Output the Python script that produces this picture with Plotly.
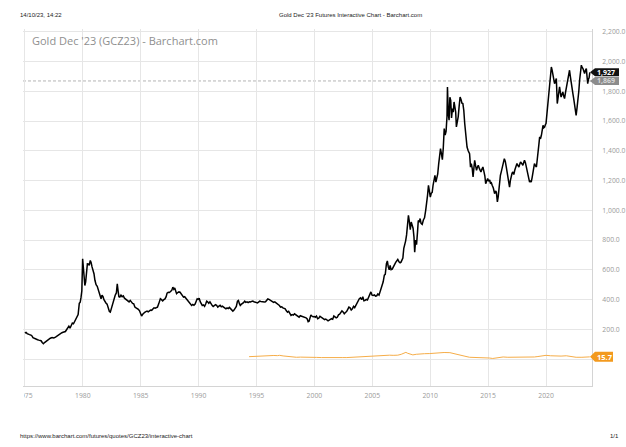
import plotly.graph_objects as go

# ---------------- data ----------------
gold_year = [
    1975.00, 1975.10, 1975.20, 1975.30, 1975.40, 1975.50, 1975.60, 1975.70, 1975.80, 1975.90,
    1976.00, 1976.10, 1976.20, 1976.30, 1976.40, 1976.50, 1976.60, 1976.70, 1976.80, 1976.90,
    1977.00, 1977.10, 1977.20, 1977.35, 1977.50, 1977.65, 1977.80, 1977.95,
    1978.10, 1978.20, 1978.30, 1978.40, 1978.50, 1978.60, 1978.70, 1978.80, 1978.90,
    1979.00, 1979.10, 1979.20, 1979.30, 1979.40, 1979.50, 1979.60, 1979.70, 1979.78, 1979.85, 1979.92, 1979.99,
    1980.05, 1980.12, 1980.18, 1980.25, 1980.32, 1980.40, 1980.48, 1980.56, 1980.65, 1980.72, 1980.80, 1980.90, 1980.97,
    1981.05, 1981.15, 1981.25, 1981.35, 1981.42, 1981.50, 1981.58, 1981.66, 1981.75, 1981.83, 1981.92,
    1982.00, 1982.10, 1982.20, 1982.30, 1982.38, 1982.45, 1982.55, 1982.62, 1982.70, 1982.80, 1982.90, 1982.98,
    1983.05, 1983.12, 1983.20, 1983.30, 1983.40, 1983.50, 1983.60, 1983.70, 1983.80, 1983.90,
    1984.00, 1984.10, 1984.20, 1984.30, 1984.40, 1984.50, 1984.60, 1984.70, 1984.80, 1984.90,
    1985.00, 1985.08, 1985.16, 1985.25, 1985.35, 1985.45, 1985.55, 1985.65, 1985.75, 1985.85, 1985.95,
    1986.05, 1986.15, 1986.25, 1986.35, 1986.45, 1986.55, 1986.62, 1986.70, 1986.80, 1986.90,
    1987.00, 1987.10, 1987.20, 1987.28, 1987.38, 1987.48, 1987.58, 1987.68, 1987.78, 1987.86, 1987.94,
    1988.02, 1988.10, 1988.20, 1988.30, 1988.40, 1988.50, 1988.60, 1988.70, 1988.80, 1988.90,
    1989.00, 1989.10, 1989.20, 1989.30, 1989.40, 1989.50, 1989.60, 1989.70, 1989.80, 1989.88, 1989.96,
    1990.05, 1990.15, 1990.25, 1990.32, 1990.42, 1990.52, 1990.62, 1990.70, 1990.78, 1990.88, 1990.98,
    1991.08, 1991.18, 1991.26, 1991.36, 1991.46, 1991.56, 1991.66, 1991.76, 1991.86, 1991.96,
    1992.06, 1992.16, 1992.26, 1992.36, 1992.46, 1992.56, 1992.66, 1992.76, 1992.86, 1992.96,
    1993.06, 1993.16, 1993.26, 1993.36, 1993.44, 1993.52, 1993.60, 1993.68, 1993.78, 1993.88, 1993.98,
    1994.08, 1994.18, 1994.28, 1994.38, 1994.48, 1994.58, 1994.68, 1994.78, 1994.88, 1994.98,
    1995.08, 1995.18, 1995.28, 1995.38, 1995.48, 1995.58, 1995.68, 1995.78, 1995.88, 1995.98,
    1996.08, 1996.18, 1996.28, 1996.38, 1996.48, 1996.58, 1996.68, 1996.78, 1996.88, 1996.98,
    1997.08, 1997.18, 1997.28, 1997.38, 1997.48, 1997.58, 1997.68, 1997.78, 1997.88, 1997.98,
    1998.08, 1998.18, 1998.28, 1998.38, 1998.48, 1998.58, 1998.68, 1998.78, 1998.88, 1998.98,
    1999.08, 1999.18, 1999.28, 1999.38, 1999.46, 1999.54, 1999.62, 1999.70, 1999.78, 1999.88, 1999.98,
    2000.08, 2000.18, 2000.28, 2000.38, 2000.48, 2000.58, 2000.68, 2000.78, 2000.88, 2000.98,
    2001.08, 2001.18, 2001.28, 2001.38, 2001.48, 2001.58, 2001.68, 2001.78, 2001.88, 2001.98,
    2002.08, 2002.18, 2002.28, 2002.38, 2002.48, 2002.58, 2002.68, 2002.78, 2002.88, 2002.98,
    2003.08, 2003.18, 2003.28, 2003.38, 2003.48, 2003.58, 2003.68, 2003.78, 2003.88, 2003.98,
    2004.08, 2004.18, 2004.28, 2004.38, 2004.48, 2004.58, 2004.68, 2004.78, 2004.88, 2004.98,
    2005.08, 2005.18, 2005.28, 2005.38, 2005.48, 2005.58, 2005.68, 2005.78, 2005.86, 2005.94,
    2006.04, 2006.12, 2006.22, 2006.30, 2006.38, 2006.46, 2006.54, 2006.62, 2006.72, 2006.82, 2006.92,
    2007.02, 2007.10, 2007.20, 2007.30, 2007.40, 2007.48, 2007.56, 2007.64, 2007.72, 2007.80, 2007.88, 2007.96,
    2008.04, 2008.12, 2008.20, 2008.28, 2008.36, 2008.44, 2008.52, 2008.60, 2008.66, 2008.74, 2008.82, 2008.90, 2008.97,
    2009.05, 2009.13, 2009.21, 2009.31, 2009.41, 2009.51, 2009.61, 2009.69, 2009.77, 2009.85, 2009.93,
    2010.01, 2010.09, 2010.17, 2010.25, 2010.33, 2010.41, 2010.49, 2010.57, 2010.65, 2010.73, 2010.81, 2010.89, 2010.97,
    2011.05, 2011.13, 2011.21, 2011.29, 2011.37, 2011.45, 2011.49, 2011.56, 2011.63, 2011.70, 2011.77, 2011.84, 2011.92, 2011.99,
    2012.06, 2012.14, 2012.20, 2012.26, 2012.34, 2012.42, 2012.50, 2012.58, 2012.66, 2012.74, 2012.82, 2012.90, 2012.98,
    2013.08, 2013.18, 2013.28, 2013.40, 2013.48, 2013.55, 2013.63, 2013.70, 2013.78, 2013.84, 2013.92,
    2014.00, 2014.08, 2014.15, 2014.25, 2014.38, 2014.46, 2014.55, 2014.64, 2014.72, 2014.79, 2014.88, 2014.96,
    2015.06, 2015.14, 2015.20, 2015.28, 2015.35, 2015.45, 2015.56, 2015.64, 2015.71, 2015.80, 2015.87, 2015.94,
    2016.00, 2016.06, 2016.14, 2016.23, 2016.32, 2016.40, 2016.48, 2016.57, 2016.64, 2016.70, 2016.78, 2016.85, 2016.92, 2016.99,
    2017.07, 2017.14, 2017.22, 2017.30, 2017.40, 2017.49, 2017.58, 2017.66, 2017.73, 2017.80, 2017.90,
    2018.00, 2018.07, 2018.14, 2018.22, 2018.30, 2018.35, 2018.45, 2018.52, 2018.58, 2018.65, 2018.72, 2018.80, 2018.88, 2018.95,
    2019.00, 2019.08, 2019.17, 2019.24, 2019.30, 2019.38, 2019.45, 2019.52, 2019.60, 2019.68, 2019.74, 2019.81, 2019.88, 2019.94,
    2020.00, 2020.08, 2020.17, 2020.24, 2020.31, 2020.38, 2020.46, 2020.53, 2020.60, 2020.67, 2020.74, 2020.82, 2020.89, 2020.97,
    2021.03, 2021.07, 2021.12, 2021.17, 2021.24, 2021.30, 2021.38, 2021.45, 2021.52, 2021.60, 2021.68, 2021.75, 2021.82, 2021.89, 2021.96,
    2022.03, 2022.10, 2022.17, 2022.25, 2022.32, 2022.39, 2022.46, 2022.53, 2022.60, 2022.68, 2022.76, 2022.83, 2022.90, 2022.98,
    2023.05, 2023.12, 2023.19, 2023.26, 2023.33, 2023.40, 2023.48, 2023.54, 2023.60, 2023.66, 2023.72, 2023.78,
]
gold_close = [
    176, 180, 172, 166, 165, 163, 158, 145, 140, 138,
    132, 131, 128, 127, 124, 112, 104, 112, 118, 128,
    134, 136, 141, 146, 143, 148, 158, 162,
    172, 178, 181, 184, 186, 198, 210, 222, 208,
    226, 243, 238, 252, 265, 287, 300, 375, 383, 415, 460, 675,
    620, 560, 495, 520, 590, 641, 640, 630, 663, 650, 620, 600, 574,
    530, 500, 490, 465, 450, 420, 406, 430, 420, 400, 383,
    378, 370, 340, 320, 316, 335, 360, 395, 410, 430, 445, 507,
    460, 420, 417, 430, 420, 425, 410, 405, 399, 390,
    385, 395, 380, 375, 372, 350, 345, 342, 335, 325,
    305, 290, 300, 310, 315, 320, 323, 318, 325, 330, 328,
    340, 345, 342, 345, 350, 370, 395, 406, 400, 392,
    400, 405, 420, 444, 450, 448, 455, 462, 484, 470, 478,
    455, 440, 448, 452, 450, 440, 430, 417, 420, 410,
    405, 398, 385, 375, 361, 368, 362, 370, 390, 406, 402,
    410, 385, 370, 361, 365, 355, 372, 390, 385, 375, 385,
    370, 360, 354, 358, 366, 362, 350, 356, 362, 352,
    356, 350, 342, 338, 345, 340, 348, 338, 334, 323,
    330, 340, 355, 390, 395, 375, 361, 368, 372, 380, 390,
    382, 385, 380, 386, 384, 388, 390, 386, 383, 379,
    378, 384, 390, 388, 386, 384, 385, 386, 399, 405,
    402, 398, 392, 388, 382, 385, 380, 375, 368, 361,
    350, 352, 345, 340, 338, 325, 316, 322, 306, 294,
    300, 296, 305, 298, 294, 286, 282, 292, 290, 288,
    285, 280, 278, 270, 252, 255, 290, 298, 290, 285, 287,
    282, 290, 272, 276, 288, 282, 275, 268, 266, 270,
    264, 258, 262, 268, 272, 268, 290, 284, 278, 282,
    298, 302, 316, 325, 318, 305, 314, 320, 335, 350,
    345, 330, 338, 355, 346, 362, 375, 385, 406, 412,
    400, 420, 392, 395, 402, 398, 418, 440, 452, 430,
    428, 432, 424, 426, 438, 430, 455, 470, 495, 520,
    565, 570, 641, 660, 620, 600, 630, 601, 605, 625, 635,
    650, 663, 670, 655, 648, 652, 670, 680, 745, 787, 795, 835,
    900, 966, 925, 870, 921, 900, 880, 820, 719, 800, 770, 850, 932,
    920, 945, 912, 905, 935, 950, 1000, 1040, 1100, 1168, 1105,
    1089, 1115, 1120, 1170, 1210, 1235, 1190, 1215, 1245, 1310, 1360, 1414, 1380,
    1340, 1420, 1549, 1505, 1530, 1630, 1829, 1650, 1605, 1760, 1739, 1620, 1683, 1660,
    1728, 1690, 1660, 1560, 1590, 1630, 1700, 1761, 1745, 1720, 1717, 1672, 1583,
    1500, 1425, 1400, 1381, 1290, 1314, 1280, 1224, 1290, 1336, 1300,
    1269, 1290, 1302, 1280, 1257, 1275, 1291, 1260, 1230, 1179, 1200, 1213,
    1195, 1205, 1179, 1185, 1168, 1150, 1112, 1130, 1123, 1056, 1090, 1156,
    1200, 1235, 1260, 1302, 1320, 1347, 1330, 1291, 1260, 1224, 1190, 1156, 1200, 1235,
    1250, 1257, 1240, 1269, 1290, 1314, 1300, 1291, 1310, 1325, 1315,
    1302, 1320, 1336, 1320, 1290, 1257, 1240, 1215, 1190, 1200, 1190, 1220, 1250, 1285,
    1314, 1300, 1291, 1340, 1403, 1440, 1493, 1480, 1504, 1540, 1571, 1555, 1560, 1575,
    1583, 1650, 1739, 1800, 1874, 1910, 1963, 1940, 1919, 1880, 1851, 1870, 1885, 1717,
    1760, 1784, 1800, 1829, 1790, 1761, 1780, 1795, 1770, 1751, 1790, 1818, 1840, 1862, 1900,
    1941, 1900, 1851, 1820, 1784, 1750, 1717, 1680, 1638, 1690, 1739, 1800, 1874, 1930,
    1975, 1960, 1952, 1935, 1919, 1940, 1952, 1900, 1851, 1880, 1890, 1927,
]
hv_year = [
    1994.36, 1994.6, 1994.9, 1995.2, 1995.5, 1995.9, 1996.2, 1996.5, 1996.8, 1997.0,
    1997.3, 1997.7, 1998.0, 1998.45, 1998.8, 1999.2, 1999.6, 1999.9, 2000.2, 2000.6,
    2001.0, 2001.3, 2001.7, 2002.0, 2002.4, 2002.8, 2003.2, 2003.5, 2003.9, 2004.2,
    2004.6, 2004.9, 2005.3, 2005.6, 2006.0, 2006.2, 2006.5, 2006.8, 2007.2, 2007.5,
    2007.75, 2007.9, 2008.05, 2008.2, 2008.5, 2008.8, 2009.1, 2009.5, 2009.96, 2010.4,
    2010.8, 2011.2, 2011.7, 2012.1, 2012.6, 2013.0, 2013.4, 2013.9, 2014.3, 2014.8,
    2015.1, 2015.4, 2015.9, 2016.3, 2016.7, 2017.1, 2017.5, 2017.8, 2018.2, 2018.6,
    2019.0, 2019.3, 2019.7, 2020.0, 2020.4, 2020.9, 2021.3, 2021.75, 2022.2, 2022.6,
    2023.1, 2023.6, 2023.78,
]
hv_value = [
    17, 18, 20, 22, 21, 26, 24, 25, 24, 26,
    22, 18, 15, 13, 14, 12, 13, 11, 12, 11,
    12, 11, 13, 12, 11, 11, 13, 15, 17, 18,
    20, 22, 24, 26, 24, 25, 27, 26, 27, 33,
    38, 46, 40, 35, 29, 33, 36, 37, 38, 42,
    46, 45, 44, 38, 29, 20, 13, 13, 13, 10,
    8, 5, 10, 15, 13, 13, 12, 12, 12, 13,
    15, 18, 22, 26, 23, 21, 21, 23, 16, 13,
    13, 14, 15.7,
]
assert len(gold_year) == len(gold_close), (len(gold_year), len(gold_close))
assert len(hv_year) == len(hv_value)

last_price = gold_close[-1]      # 1,927
prev_close = 1869.0
last_hv = hv_value[-1]           # 15.7
year_ticks = [1975, 1980, 1985, 1990, 1995, 2000, 2005, 2010, 2015, 2020]
price_ticks = [0, 200, 400, 600, 800, 1000, 1200, 1400, 1600, 1800, 2000, 2200]

# ---------------- layout geometry ----------------
W, H = 626, 447
L, R, T, B = 23, 34, 29, 61
PW, PH = W - L - R, H - T - B


def xp(px):
    return (px - L) / PW


def yp(py):
    return (H - B - py) / PH


TICK_FONT = dict(family="Open Sans", size=6.8, color="#9a9a9a")
PRINT_FONT = dict(family="Liberation Sans", size=6, color="#222222")

fig = go.Figure()
fig.add_trace(go.Scatter(x=hv_year, y=hv_value, mode="lines",
                         line=dict(color="#f6ad48", width=1), hoverinfo="skip"))
fig.add_trace(go.Scatter(x=gold_year, y=gold_close, mode="lines",
                         line=dict(color="#000000", width=1.5)))

shapes = [
    # previous close dashed line
    dict(type="line", xref="paper", x0=0, x1=1, yref="y", y0=prev_close, y1=prev_close,
         line=dict(color="#b5b5b5", width=1, dash="3px,2px"), layer="between"),
    # page edge hiding the left part of the first year label
    dict(type="rect", xref="paper", x0=xp(0), x1=xp(24), yref="paper", y0=yp(415), y1=yp(388),
         fillcolor="white", line=dict(width=0), layer="above"),
]


def badge(value, color, half_h, length):
    return dict(type="path", xref="paper", xsizemode="pixel", xanchor=1,
                yref="y", ysizemode="pixel", yanchor=value,
                path=f"M -2,0 L 3,{half_h} L {length},{half_h} L {length},{-half_h} L 3,{-half_h} Z",
                fillcolor=color, line=dict(width=0), layer="above")


shapes.append(badge(prev_close, "#8c8c8c", 4, 27))
shapes.append(badge(last_price, "#111111", 4, 27))
shapes.append(badge(last_hv, "#f39a1e", 5, 21))

annotations = [
    dict(text="14/10/23, 14:22", xref="paper", yref="paper", x=xp(18), y=yp(15),
         xanchor="left", yanchor="middle", showarrow=False, font=PRINT_FONT),
    dict(text="Gold Dec '23 Futures Interactive Chart - Barchart.com", xref="paper", yref="paper",
         x=xp(350), y=yp(15), xanchor="center", yanchor="middle", showarrow=False, font=PRINT_FONT),
    dict(text="https://www.barchart.com/futures/quotes/GCZ23/interactive-chart", xref="paper",
         yref="paper", x=xp(18), y=yp(436), xanchor="left", yanchor="middle", showarrow=False,
         font=PRINT_FONT),
    dict(text="1/1", xref="paper", yref="paper", x=xp(621), y=yp(436), xanchor="right",
         yanchor="middle", showarrow=False, font=PRINT_FONT),
    dict(text="Gold Dec '23 (GCZ23) - Barchart.com", xref="paper", yref="paper", x=xp(30), y=yp(40),
         xanchor="left", yanchor="middle", showarrow=False,
         font=dict(family="Open Sans", size=11, color="#8f8f8f")),
    dict(text=f"<b>{prev_close:,.0f}</b>", xref="paper", x=1, xshift=3, yref="y", y=prev_close,
         xanchor="left", yanchor="middle", showarrow=False,
         font=dict(family="Open Sans", size=7, color="#d9d9d9")),
    dict(text=f"<b>{last_price:,.0f}</b>", xref="paper", x=1, xshift=3, yref="y", y=last_price,
         xanchor="left", yanchor="middle", showarrow=False,
         font=dict(family="Open Sans", size=7, color="white")),
    dict(text=f"<b>{last_hv:.1f}</b>", xref="paper", x=1, xshift=3, yref="y", y=last_hv,
         xanchor="left", yanchor="middle", showarrow=False,
         font=dict(family="Open Sans", size=7.5, color="white")),
]

fig.update_layout(
    width=W, height=H, margin=dict(l=L, r=R, t=T, b=B, pad=0, autoexpand=False),
    paper_bgcolor="white", plot_bgcolor="white", showlegend=False,
    shapes=shapes, annotations=annotations,
    xaxis=dict(range=[1974.84, 2023.97], tickmode="array", tickvals=year_ticks,
               ticktext=[str(y) for y in year_ticks], showgrid=True, gridcolor="#e6e6e6",
               gridwidth=1, zeroline=False, showline=True, linecolor="#d4d4d4", linewidth=1,
               ticks="", ticklabelstandoff=3, tickfont=TICK_FONT, fixedrange=True,
               automargin=False),
    yaxis=dict(range=[-180, 2218], side="right", tickmode="array", tickvals=price_ticks,
               ticktext=["" if v == 0 else f"{v:,.1f}" for v in price_ticks], showgrid=True,
               gridcolor="#e6e6e6", gridwidth=1, zeroline=False, showline=True,
               linecolor="#d4d4d4", linewidth=1, ticks="", ticklabelstandoff=8,
               tickfont=TICK_FONT, fixedrange=True, automargin=False),
)

fig.write_html("out.html")
